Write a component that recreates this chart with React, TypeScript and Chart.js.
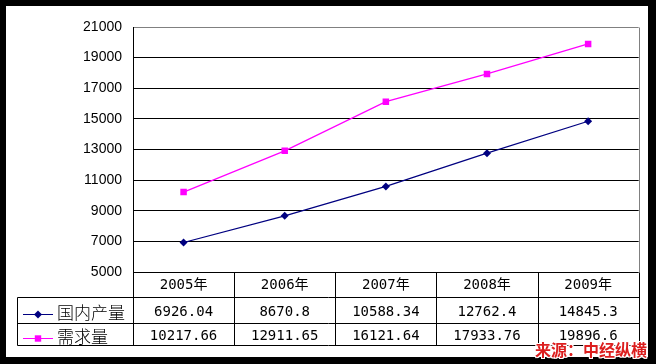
import React, { useEffect, useRef } from "react";
import { Chart, registerables } from "chart.js";

Chart.register(...registerables);

const categories = ["2005年", "2006年", "2007年", "2008年", "2009年"];
const seriesNames = ["国内产量", "需求量"];
const domesticOutput = [6926.04, 8670.8, 10588.34, 12762.4, 14845.3];
const demand = [10217.66, 12911.65, 16121.64, 17933.76, 19896.6];
const yMin = 5000;
const yMax = 21000;
const yStep = 2000;
const sourceText = "来源：中经纵横";

const NAVY = "#000080";
const MAGENTA = "#FF00FF";

const numFont = "14px 'DejaVu Sans Mono', 'Noto Sans CJK SC', monospace";
const labelFont = "300 17px 'Noto Sans CJK SC', sans-serif";

function drawMarker(ctx: CanvasRenderingContext2D, kind: string, x: number, y: number, color: string) {
  ctx.save();
  ctx.fillStyle = color;
  ctx.beginPath();
  if (kind === "diamond") {
    const r = 4;
    ctx.moveTo(x, y - r);
    ctx.lineTo(x + r, y);
    ctx.lineTo(x, y + r);
    ctx.lineTo(x - r, y);
    ctx.closePath();
  } else {
    const s = 3.2;
    ctx.rect(x - s, y - s, 2 * s, 2 * s);
  }
  ctx.fill();
  ctx.restore();
}

const tablePlugin = {
  id: "dataTable",
  afterDraw(chart: any) {
    const ctx: CanvasRenderingContext2D = chart.ctx;
    const { left, right, top, bottom } = chart.chartArea;
    const xs = chart.scales.x;
    const n = categories.length;
    const colW = (right - left) / n;
    const headerBottom = bottom + 25;
    const row1Bottom = headerBottom + 26;
    const row2Bottom = row1Bottom + 22;
    const tableLeft = 11;
    const al = (v: number) => Math.round(v) + 0.5;

    ctx.save();
    ctx.strokeStyle = "#808080";
    ctx.lineWidth = 1;
    ctx.beginPath();
    ctx.moveTo(al(right), al(top));
    ctx.lineTo(al(right), al(bottom));
    ctx.stroke();

    ctx.strokeStyle = "#000000";
    ctx.beginPath();
    for (let i = 0; i <= n; i++) {
      const x = al(left + i * colW);
      ctx.moveTo(x, al(bottom));
      ctx.lineTo(x, al(row2Bottom));
    }
    for (const y of [headerBottom, row1Bottom, row2Bottom]) {
      ctx.moveTo(al(tableLeft), al(y));
      ctx.lineTo(al(right), al(y));
    }
    ctx.moveTo(al(tableLeft), al(headerBottom));
    ctx.lineTo(al(tableLeft), al(row2Bottom));
    ctx.stroke();

    ctx.fillStyle = "#000000";
    ctx.textAlign = "center";
    ctx.textBaseline = "middle";
    ctx.font = numFont;
    const rowsData = [domesticOutput, demand];
    const rowCenters = [headerBottom + 15, row1Bottom + 13];
    categories.forEach((c, i) => {
      const x = xs.getPixelForValue(i);
      ctx.fillText(c, x, bottom + 13);
      rowsData.forEach((arr, r) => {
        ctx.fillText(String(arr[i]), x, rowCenters[r]);
      });
    });

    const colors = [NAVY, MAGENTA];
    const kinds = ["diamond", "square"];
    const lineYs = [headerBottom + 17, row1Bottom + 15];
    seriesNames.forEach((name, r) => {
      const y = lineYs[r];
      ctx.strokeStyle = colors[r];
      ctx.lineWidth = 1;
      ctx.beginPath();
      ctx.moveTo(17, al(y));
      ctx.lineTo(47, al(y));
      ctx.stroke();
      drawMarker(ctx, kinds[r], 32, al(y), colors[r]);
      ctx.fillStyle = "#000000";
      ctx.font = labelFont;
      ctx.textAlign = "left";
      ctx.textBaseline = "middle";
      ctx.fillText(name, 51, rowCenters[r] + 1);
    });
    ctx.restore();
  },
};

export default function App() {
  const canvasRef = useRef<HTMLCanvasElement | null>(null);

  useEffect(() => {
    document.body.style.margin = "0";
    const canvas = canvasRef.current;
    if (!canvas) return;
    const chart = new Chart(canvas, {
      type: "line",
      data: {
        labels: categories,
        datasets: [
          {
            label: seriesNames[0],
            data: domesticOutput,
            borderColor: NAVY,
            backgroundColor: NAVY,
            borderWidth: 1.25,
            pointStyle: "rectRot",
            pointRadius: 4,
            pointBorderWidth: 0,
            pointBackgroundColor: NAVY,
            tension: 0,
          },
          {
            label: seriesNames[1],
            data: demand,
            borderColor: MAGENTA,
            backgroundColor: MAGENTA,
            borderWidth: 1.25,
            pointStyle: "rect",
            pointRadius: 4.6,
            pointBorderWidth: 0,
            pointBackgroundColor: MAGENTA,
            tension: 0,
          },
        ],
      },
      options: {
        animation: false,
        responsive: true,
        maintainAspectRatio: false,
        layout: { padding: { left: 0, top: 21, right: 9.3, bottom: 85 } },
        plugins: {
          legend: { display: false },
          tooltip: { enabled: false },
          title: { display: false },
        },
        scales: {
          x: {
            type: "category",
            display: false,
            offset: true,
          },
          y: {
            min: yMin,
            max: yMax,
            afterFit: (s: any) => {
              s.width = 127;
            },
            ticks: {
              stepSize: yStep,
              color: "#000000",
              padding: 11,
              callback: (v: any) => String(v),
              font: { family: "'Liberation Sans', Arial, sans-serif", size: 14 },
            },
            grid: {
              drawTicks: false,
              color: (c: any) => (c.tick && c.tick.value === yMax ? "#808080" : "#000000"),
              lineWidth: 1,
            },
            border: { display: true, color: "#000000", width: 1 },
          },
        },
      },
      plugins: [tablePlugin],
    });
    return () => chart.destroy();
  }, []);

  const shadow = [
    "1px 0 0 #fff",
    "-1px 0 0 #fff",
    "0 1px 0 #fff",
    "0 -1px 0 #fff",
    "1px 1px 0 #fff",
    "-1px -1px 0 #fff",
    "1px -1px 0 #fff",
    "-1px 1px 0 #fff",
  ].join(",");

  return (
    <div style={{ position: "relative", width: 656, height: 364, background: "#000000", overflow: "hidden" }}>
      <style>{"body{margin:0}"}</style>
      <div style={{ position: "absolute", left: 6, top: 6, width: 642, height: 351, background: "#ffffff" }}>
        <canvas ref={canvasRef} />
      </div>
      <div
        style={{
          position: "absolute",
          left: 535,
          top: 341,
          height: 17,
          lineHeight: "17px",
          fontSize: 16,
          fontWeight: "bold",
          fontFamily: "'Noto Sans CJK SC', sans-serif",
          color: "#DC1E1E",
          textShadow: shadow,
          whiteSpace: "nowrap",
        }}
      >
        {sourceText}
      </div>
    </div>
  );
}
